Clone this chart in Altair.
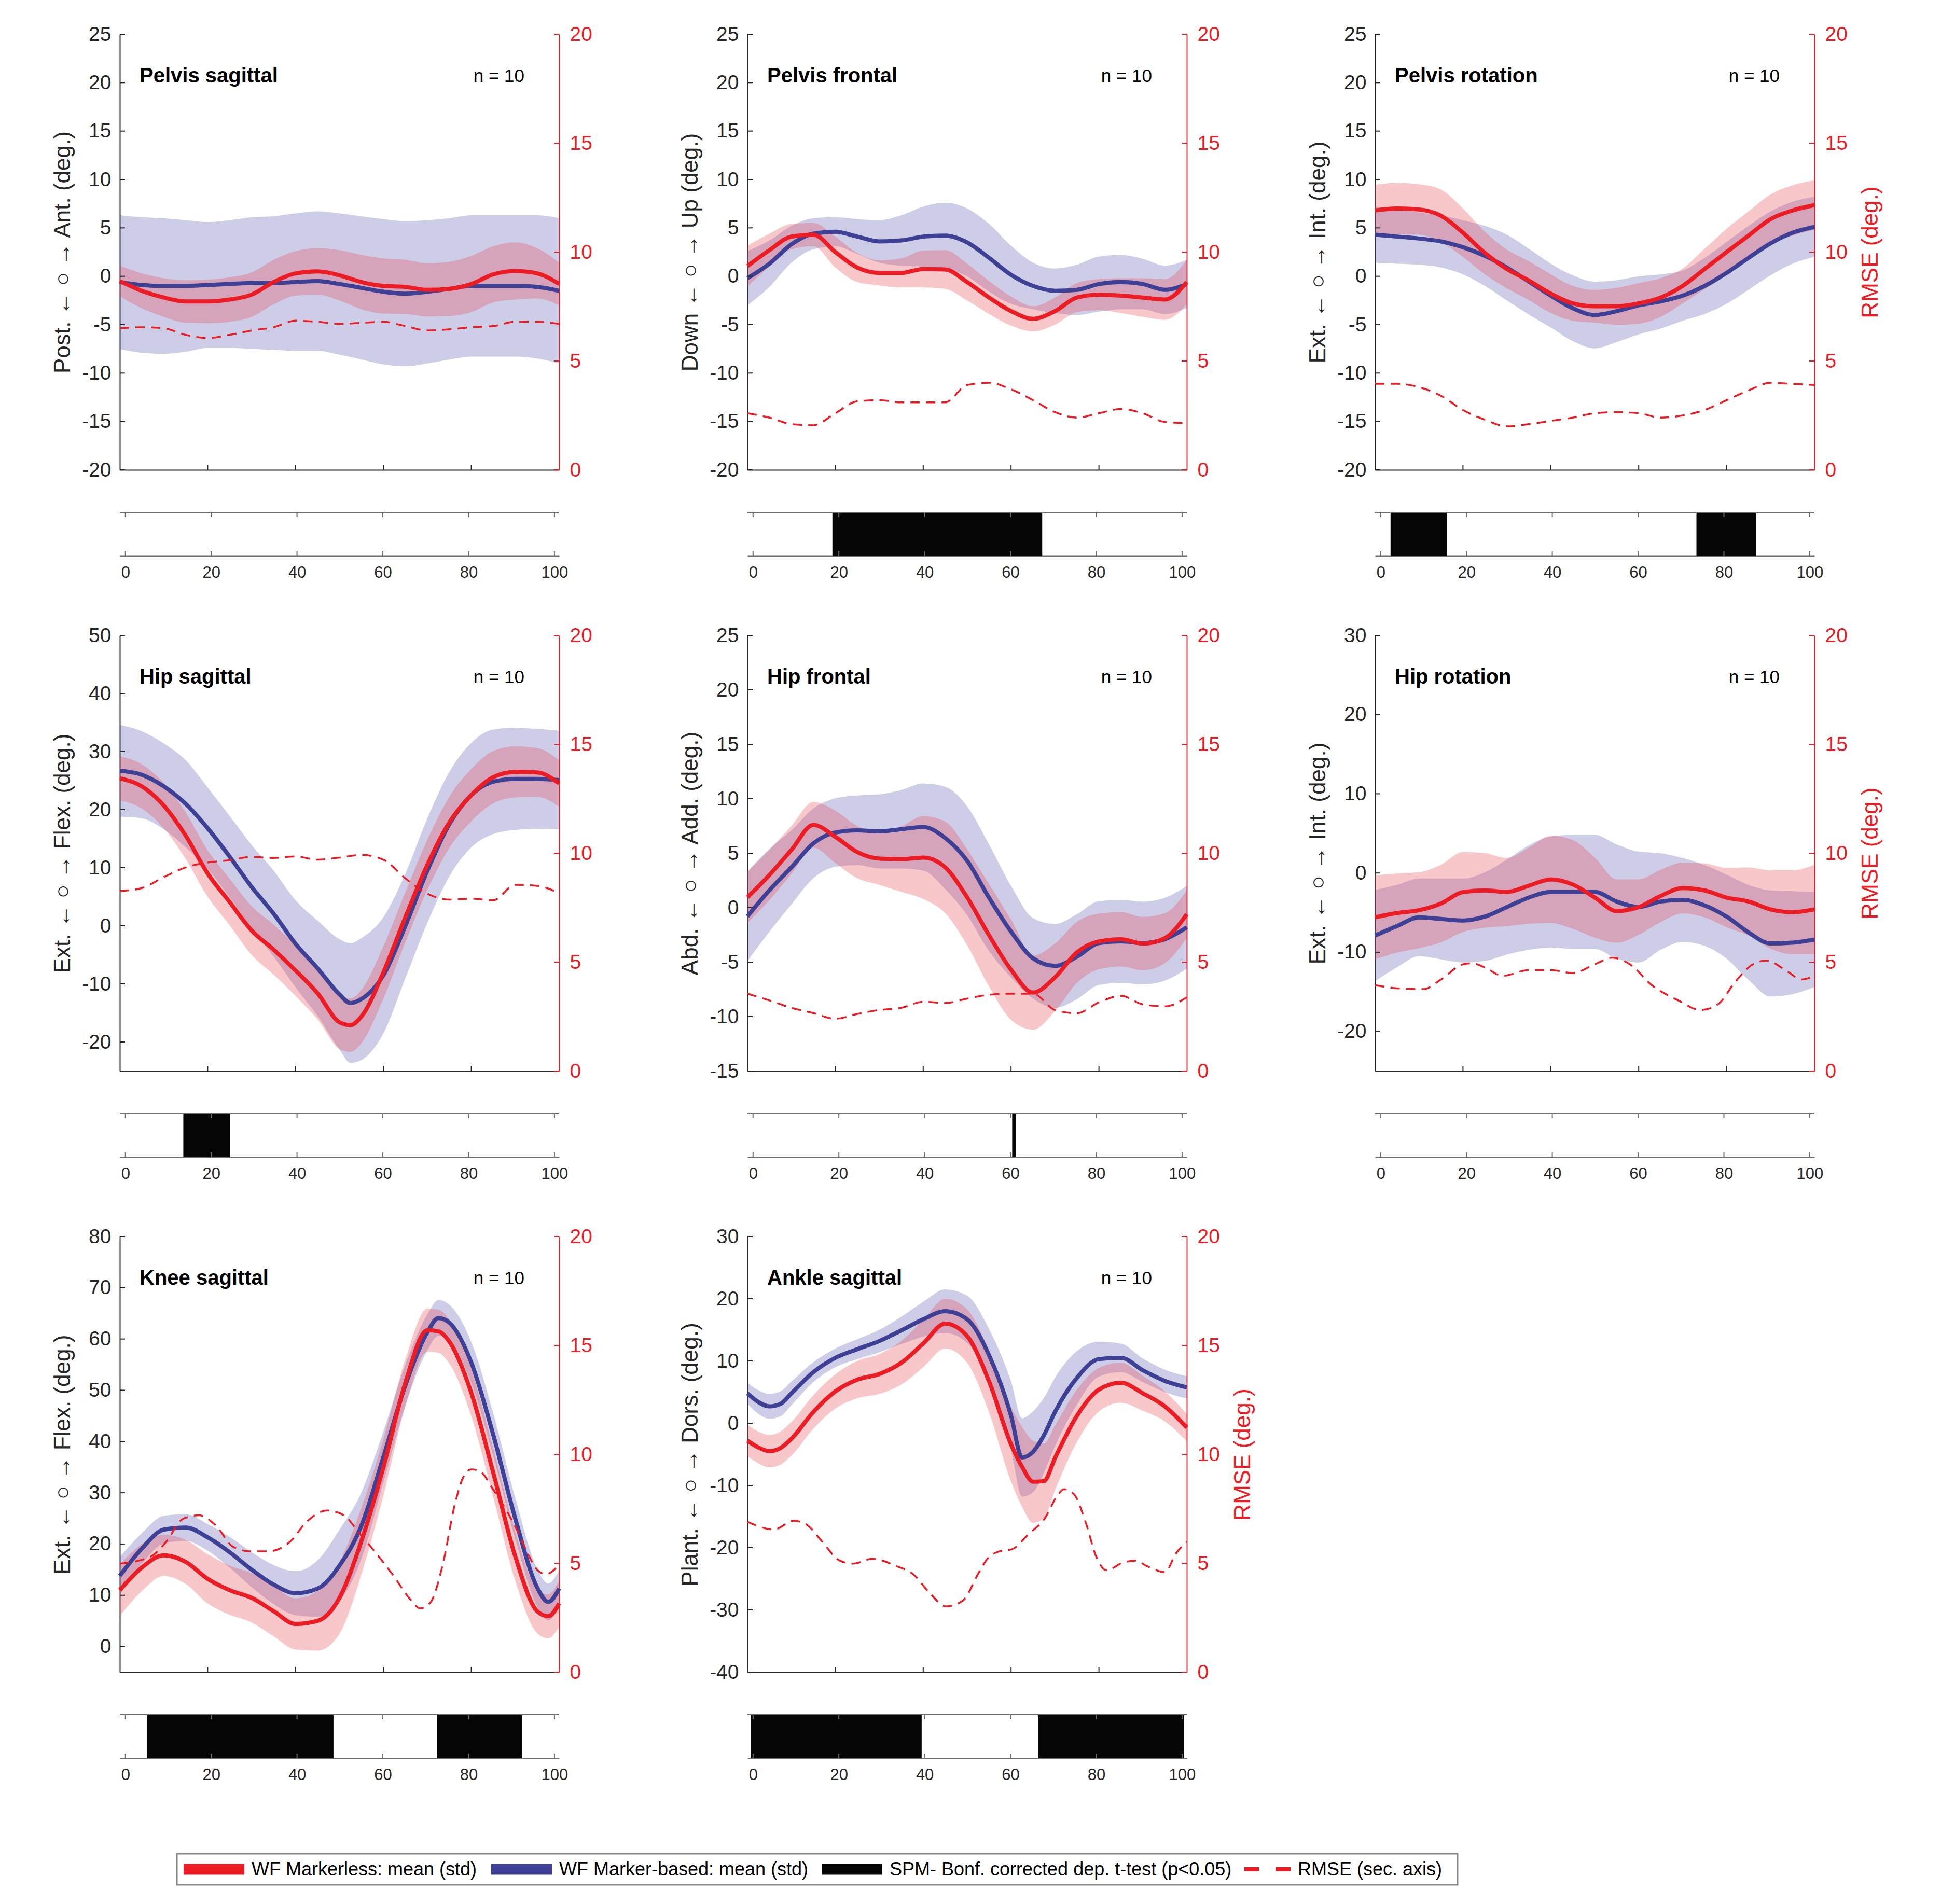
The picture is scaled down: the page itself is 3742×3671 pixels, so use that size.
import altair as alt
import pandas as pd

# ---------------------------------------------------------------- data
X5 = [0, 5, 10, 15, 20, 25, 30, 35, 40, 45, 50, 55, 60, 65, 70, 75, 80, 85, 90, 95, 100]
RMSE_TICKS = [0, 5, 10, 15, 20]
STRIP_TICKS = [0, 20, 40, 60, 80, 100]
MAIN_XTICKS = [20, 40, 60, 80]

# Pelvis sagittal
PS_BLUE = [-0.6, -0.9, -1.0, -1.0, -0.9, -0.8, -0.7, -0.7, -0.6, -0.5, -0.8, -1.2, -1.6, -1.8, -1.6, -1.3, -1.0, -1.0, -1.0, -1.1, -1.5]
PS_BLUE_SD = [6.9, 7.0, 7.0, 6.8, 6.5, 6.6, 6.8, 6.9, 7.1, 7.2, 7.3, 7.4, 7.5, 7.5, 7.4, 7.3, 7.3, 7.3, 7.3, 7.4, 7.5]
PS_RED = [-0.5, -1.5, -2.2, -2.6, -2.6, -2.4, -1.9, -0.6, 0.3, 0.5, 0.1, -0.6, -1.0, -1.1, -1.4, -1.3, -0.8, 0.2, 0.55, 0.3, -0.8]
PS_RED_SD = [1.6, 1.8, 2.0, 2.2, 2.25, 2.3, 2.3, 2.3, 2.3, 2.4, 2.6, 2.8, 2.85, 2.8, 2.75, 2.8, 2.9, 2.9, 2.95, 2.6, 2.2]
PS_RMSE = [6.5, 6.55, 6.5, 6.2, 6.05, 6.2, 6.4, 6.55, 6.85, 6.8, 6.7, 6.75, 6.8, 6.6, 6.4, 6.45, 6.55, 6.6, 6.8, 6.8, 6.7]
PS_SPM_START = []
PS_SPM_END = []

# Pelvis frontal
PF_BLUE = [-0.2, 1.3, 3.3, 4.4, 4.6, 4.1, 3.6, 3.7, 4.1, 4.2, 3.5, 1.9, 0.15, -1.0, -1.5, -1.4, -0.8, -0.6, -0.8, -1.4, -0.8]
PF_BLUE_SD = [2.8, 2.4, 1.9, 1.6, 1.5, 1.8, 2.2, 2.6, 3.1, 3.4, 3.5, 3.5, 3.0, 2.4, 2.3, 2.6, 2.85, 2.8, 2.6, 2.5, 2.5]
PF_RED = [1.05, 2.7, 4.1, 4.3, 2.5, 0.9, 0.35, 0.35, 0.75, 0.7, -0.6, -2.2, -3.6, -4.4, -3.6, -2.2, -1.9, -2.0, -2.2, -2.4, -0.6]
PF_RED_SD = [2.1, 1.7, 1.3, 1.2, 1.6, 1.5, 1.3, 1.5, 1.9, 2.0, 1.9, 1.7, 1.5, 1.3, 1.4, 1.5, 1.6, 1.8, 2.0, 2.1, 2.3]
PF_RMSE = [2.6, 2.4, 2.1, 2.05, 2.6, 3.15, 3.2, 3.1, 3.1, 3.1, 3.9, 4.0, 3.7, 3.2, 2.65, 2.4, 2.6, 2.8, 2.6, 2.2, 2.15]
PF_SPM_START = [18.5]
PF_SPM_END = [67.4]

# Pelvis rotation
PR_BLUE = [4.3, 4.1, 3.9, 3.6, 3.0, 2.1, 0.9, -0.55, -2.0, -3.3, -4.0, -3.6, -3.0, -2.6, -2.0, -1.0, 0.35, 1.9, 3.4, 4.5, 5.1]
PR_BLUE_SD = [2.9, 2.8, 2.7, 2.7, 2.8, 3.1, 3.4, 3.4, 3.3, 3.4, 3.45, 3.2, 3.0, 2.8, 2.6, 2.9, 3.2, 3.3, 3.3, 3.2, 3.1]
PR_RED = [6.8, 7.0, 6.9, 6.25, 4.5, 2.4, 0.75, -0.45, -1.8, -2.8, -3.1, -3.1, -2.8, -2.2, -1.0, 0.75, 2.5, 4.2, 5.9, 6.8, 7.35]
PR_RED_SD = [2.65, 2.65, 2.6, 2.7, 2.5, 2.2, 2.0, 2.0, 2.0, 1.8, 1.7, 1.9, 2.1, 2.0, 1.8, 2.1, 2.4, 2.5, 2.55, 2.6, 2.55]
PR_RMSE = [3.95, 3.95, 3.8, 3.4, 2.75, 2.3, 2.0, 2.1, 2.25, 2.4, 2.6, 2.65, 2.6, 2.4, 2.5, 2.75, 3.2, 3.65, 4.0, 3.95, 3.9]
PR_SPM_START = [2.3, 73.6]
PR_SPM_END = [15.4, 87.5]

# Hip sagittal
HS_X = [0, 5, 10, 15, 20, 25, 30, 35, 40, 45, 50, 52.5, 55, 60, 65, 70, 75, 80, 85, 90, 95, 100]
HS_BLUE = [26.7, 26.0, 24.0, 21.0, 16.8, 11.9, 6.7, 2.1, -3.1, -7.3, -11.8, -13.3, -12.6, -8.5, 0.0, 9.5, 17.5, 22.5, 24.8, 25.3, 25.3, 25.1]
HS_BLUE_SD = [7.9, 7.5, 7.4, 7.5, 7.0, 7.0, 7.2, 7.4, 7.5, 8.2, 9.5, 10.3, 10.5, 10.0, 9.0, 9.0, 9.0, 9.0, 9.0, 8.8, 8.6, 8.5]
HS_RED = [25.4, 24.0, 20.7, 15.5, 9.0, 4.1, -0.8, -4.1, -7.7, -11.6, -16.6, -17.1, -15.6, -8.0, 1.5, 10.5, 17.8, 22.5, 25.6, 26.5, 26.4, 24.5]
HS_RED_SD = [3.8, 3.8, 3.9, 4.0, 4.0, 4.0, 4.2, 4.3, 4.4, 4.5, 4.6, 4.6, 4.6, 4.5, 4.3, 4.3, 4.4, 4.5, 4.5, 4.4, 4.2, 4.0]
HS_RMSE = [8.26, 8.4, 8.9, 9.35, 9.57, 9.68, 9.83, 9.78, 9.85, 9.7, 9.8, 9.92, 9.7, 8.84, 8.14, 7.87, 7.91, 7.84, 8.55, 8.5, 8.17]
HS_SPM_START = [13.5]
HS_SPM_END = [24.4]

# Hip frontal
HF_BLUE = [-0.8, 1.6, 3.7, 5.9, 6.9, 7.1, 7.0, 7.2, 7.4, 6.4, 4.3, 0.9, -2.2, -4.65, -5.35, -4.5, -3.25, -3.1, -3.25, -2.9, -1.8]
HF_BLUE_SD = [4.1, 3.8, 3.4, 3.2, 3.15, 3.2, 3.4, 3.6, 4.0, 4.7, 5.0, 4.9, 4.2, 3.7, 3.85, 3.9, 3.85, 3.8, 3.8, 3.8, 3.8]
HF_RED = [0.95, 3.0, 5.3, 7.6, 6.5, 5.1, 4.5, 4.45, 4.6, 3.7, 0.95, -2.55, -5.7, -7.8, -6.4, -4.1, -3.1, -2.9, -3.3, -2.8, -0.6]
HF_RED_SD = [2.35, 2.3, 2.2, 2.1, 2.4, 2.4, 2.4, 3.0, 3.8, 4.2, 4.4, 4.7, 4.6, 3.4, 3.1, 2.8, 2.55, 2.5, 2.45, 2.3, 2.2]
HF_RMSE = [3.55, 3.24, 2.9, 2.66, 2.4, 2.62, 2.8, 2.9, 3.18, 3.12, 3.32, 3.5, 3.55, 3.55, 2.8, 2.65, 3.15, 3.45, 3.06, 2.97, 3.38]
HF_SPM_START = [60.4]
HF_SPM_END = [61.3]

# Hip rotation
HR_BLUE = [-7.9, -6.7, -5.6, -5.8, -6.0, -5.5, -4.3, -3.1, -2.4, -2.4, -2.4, -3.6, -4.3, -3.6, -3.4, -4.1, -5.5, -7.5, -8.9, -8.8, -8.4]
HR_BLUE_SD = [5.75, 5.2, 4.9, 5.1, 5.3, 5.6, 6.0, 6.6, 7.0, 7.2, 7.2, 7.2, 7.0, 6.1, 5.3, 5.1, 5.3, 6.0, 6.7, 6.5, 6.0]
HR_RED = [-5.6, -5.05, -4.7, -3.85, -2.4, -2.2, -2.4, -1.6, -0.8, -1.45, -3.1, -4.8, -4.3, -2.9, -1.9, -2.2, -3.1, -3.6, -4.6, -4.95, -4.6]
HR_RED_SD = [5.3, 5.0, 4.8, 4.9, 5.05, 4.7, 4.3, 4.8, 5.5, 5.6, 5.05, 4.0, 3.5, 3.3, 3.2, 3.4, 3.75, 4.3, 4.95, 5.3, 5.65]
HR_RMSE_X = [0, 5, 11, 15, 20, 22, 25, 29, 35, 40, 45, 50, 54, 58, 63, 69, 74, 78, 82, 86, 89, 94, 97, 100]
HR_RMSE = [3.94, 3.8, 3.76, 4.2, 4.9, 4.95, 4.75, 4.37, 4.63, 4.63, 4.5, 4.9, 5.2, 4.9, 3.94, 3.24, 2.8, 3.06, 4.1, 4.9, 5.07, 4.55, 4.2, 4.37]
HR_SPM_START = []
HR_SPM_END = []

# Knee sagittal
KS_X = [0, 5, 10, 15, 20, 25, 30, 35, 40, 45, 50, 55, 60, 65, 70, 72.5, 75, 80, 85, 90, 95, 97.5, 100]
KS_BLUE = [13.8, 19.1, 22.8, 23.2, 21.3, 18.4, 15.0, 12.1, 10.4, 11.3, 15.8, 23.6, 37.0, 51.0, 61.3, 64.1, 63.2, 55.4, 41.3, 25.0, 11.5, 8.7, 11.3]
KS_BLUE_SD = [3.7, 3.0, 2.7, 2.6, 2.6, 3.0, 3.4, 3.8, 4.3, 5.5, 7.0, 6.5, 5.0, 4.0, 3.5, 3.5, 3.5, 4.0, 4.2, 4.0, 3.7, 3.6, 3.6]
KS_RED = [11.0, 15.4, 17.8, 16.5, 13.2, 11.0, 9.5, 6.9, 4.4, 5.0, 9.5, 20.6, 35.0, 51.5, 61.7, 61.5, 59.5, 49.5, 33.9, 17.6, 6.9, 5.9, 8.4]
KS_RED_SD = [5.0, 4.6, 4.0, 4.3, 4.8, 4.8, 4.8, 4.9, 5.0, 5.8, 7.0, 6.5, 5.5, 4.6, 4.2, 4.2, 4.3, 4.6, 4.8, 4.8, 4.3, 4.3, 4.5]
KS_RMSE_X = [0, 7, 10.6, 14.4, 18, 22, 25.6, 29.4, 34, 38.8, 42.5, 47.2, 51, 54.7, 57.6, 62.3, 66, 68.4, 70.7, 73.5, 76.3, 78.2, 80, 82, 84.8, 87.6, 90.4, 93.2, 95.1, 97, 100]
KS_RMSE = [4.98, 5.3, 6.0, 7.04, 7.2, 6.7, 5.78, 5.55, 5.55, 6.0, 6.9, 7.42, 7.2, 6.33, 5.64, 4.42, 3.37, 2.93, 3.2, 4.94, 7.74, 8.96, 9.31, 9.22, 8.44, 7.56, 6.52, 5.3, 4.68, 4.5, 4.94]
KS_SPM_START = [5.0, 72.6]
KS_SPM_END = [48.5, 92.5]

# Ankle sagittal
AS_X = [0, 2.5, 5, 7.5, 10, 15, 20, 25, 30, 35, 40, 45, 50, 55, 60, 62.5, 65, 67.5, 70, 75, 80, 85, 90, 95, 100]
AS_BLUE = [4.8, 3.4, 2.7, 3.1, 4.8, 8.2, 10.5, 11.9, 13.2, 14.9, 16.7, 18.0, 16.7, 10.9, 1.2, -5.5, -4.6, -1.9, 1.8, 7.3, 10.3, 10.5, 8.5, 6.8, 5.75]
AS_BLUE_SD = [1.7, 1.9, 2.0, 2.0, 1.9, 1.6, 1.5, 1.6, 1.8, 2.2, 2.8, 3.5, 3.8, 4.2, 5.5, 6.3, 6.5, 6.0, 5.5, 4.3, 2.8, 2.3, 1.9, 1.8, 1.8]
AS_RED = [-2.8, -3.9, -4.5, -4.0, -2.5, 1.8, 5.1, 7.0, 7.9, 9.7, 12.8, 16.0, 14.0, 6.7, -3.4, -7.0, -9.4, -9.3, -5.6, 1.2, 5.4, 6.5, 4.8, 2.7, -0.7]
AS_RED_SD = [2.5, 2.55, 2.6, 2.65, 2.7, 2.7, 2.75, 3.0, 3.2, 3.5, 3.8, 4.0, 4.3, 5.0, 6.0, 6.4, 6.6, 6.0, 5.2, 4.2, 3.5, 3.2, 2.8, 2.4, 2.2]
AS_RMSE_X = [0, 6, 10.6, 13.4, 17, 21, 24, 28.4, 34, 37.7, 41.5, 45.2, 49, 52.7, 54.6, 57.4, 60.2, 64, 67.6, 70.5, 72, 74.3, 77, 79.4, 81.7, 85.5, 88.3, 91, 95, 97.6, 100]
AS_RMSE = [6.9, 6.55, 6.95, 6.78, 5.99, 5.12, 4.98, 5.2, 4.86, 4.5, 3.63, 3.02, 3.28, 4.59, 5.2, 5.55, 5.64, 6.34, 7.04, 8.09, 8.4, 8.17, 6.86, 5.29, 4.68, 5.03, 5.12, 4.86, 4.59, 5.47, 5.99]
AS_SPM_START = [-0.5, 66.4]
AS_SPM_END = [39.3, 100.5]

# Legend
LEG_LABELS = ["WF Markerless: mean (std)", "WF Marker-based: mean (std)",
              "SPM- Bonf. corrected dep. t-test (p<0.05)", "RMSE (sec. axis)"]

# ---------------------------------------------------------------- style
W, H, SH = 847, 840, 84
RED = "#EC1C24"
BLUE = "#3E4096"
BLUE_FILL = "#3B37A3"
RED_FILL = "#E8464F"
AX = "#262626"
GRAY = "#6E6E6E"
FONT = "Liberation Sans"
INTERP = "monotone"
STRIP_DOMAIN = [-1.3, 101.1]
LABEL_EXPR = "toString(datum.value)"


def make_main(name, ylabel, ydom, yticks, x, blue, blue_sd, red, red_sd, rx, rmse, rmse_title):
    d = pd.DataFrame({"x": x, "b": blue, "bs": blue_sd, "r": red, "rs": red_sd})
    d["b_lo"] = d["b"] - d["bs"]
    d["b_hi"] = d["b"] + d["bs"]
    d["r_lo"] = d["r"] - d["rs"]
    d["r_hi"] = d["r"] + d["rs"]
    xs = alt.Scale(domain=[0, 100], nice=False, zero=False)
    ys = alt.Scale(domain=ydom, nice=False, zero=False)
    rs = alt.Scale(domain=[0, 20], nice=False, zero=False)
    x_axis = alt.Axis(title=None, labels=False, ticks=False, grid=False, domainColor=AX,
                      domainWidth=2, minExtent=0, maxExtent=0)
    y_axis = alt.Axis(title=ylabel, values=yticks, ticks=False, grid=False, labelExpr=LABEL_EXPR,
                      labelFont=FONT, labelFontSize=39, labelColor=AX, labelPadding=17,
                      domainColor=AX, domainWidth=2, titleFont=FONT, titleFontSize=44,
                      titleFontWeight="normal", titleColor=AX, titlePadding=10,
                      minExtent=78, maxExtent=78)
    r_axis = alt.Axis(orient="right", title="RMSE (deg.)", values=RMSE_TICKS, ticks=False,
                      grid=False, labelFont=FONT, labelFontSize=39, labelColor=RED,
                      labelPadding=20, domainColor=RED, domainWidth=2, titleFont=FONT,
                      titleFontSize=44, titleFontWeight="normal", titleColor=RED,
                      titleOpacity=1 if rmse_title else 0, titlePadding=20,
                      titleAngle=270, titleBaseline="top", minExtent=66, maxExtent=66)
    X = alt.X("x:Q", scale=xs, axis=x_axis)
    base = alt.Chart(d)
    blue_band = base.mark_area(color=BLUE_FILL, opacity=0.25, interpolate=INTERP).encode(
        x=X, y=alt.Y("b_lo:Q", scale=ys, axis=y_axis), y2="b_hi:Q")
    red_band = base.mark_area(color=RED_FILL, opacity=0.3, interpolate=INTERP).encode(
        x=X, y=alt.Y("r_lo:Q", scale=ys, axis=y_axis), y2="r_hi:Q")
    blue_line = base.mark_line(color=BLUE, strokeWidth=8, interpolate=INTERP).encode(
        x=X, y=alt.Y("b:Q", scale=ys, axis=y_axis))
    red_line = base.mark_line(color=RED, strokeWidth=8, interpolate=INTERP).encode(
        x=X, y=alt.Y("r:Q", scale=ys, axis=y_axis))
    lticks = alt.Chart(pd.DataFrame({"v": yticks})).mark_rule(color=AX, strokeWidth=2).encode(
        y=alt.Y("v:Q", scale=ys, axis=y_axis), x=alt.value(0), x2=alt.value(10))
    bticks = alt.Chart(pd.DataFrame({"x": MAIN_XTICKS})).mark_rule(color=AX, strokeWidth=2).encode(
        x=X, y=alt.value(H), y2=alt.value(H - 10))
    title = alt.Chart(pd.DataFrame({"t": [name]})).mark_text(
        font=FONT, fontSize=40, fontWeight="bold", color="black", align="left",
        baseline="middle").encode(text="t:N", x=alt.value(38), y=alt.value(81))
    ntext = alt.Chart(pd.DataFrame({"t": ["n = 10"]})).mark_text(
        font=FONT, fontSize=35, color="black", align="right",
        baseline="middle").encode(text="t:N", x=alt.value(780), y=alt.value(81))
    left = alt.layer(blue_band, red_band, blue_line, red_line, lticks, bticks, title, ntext)

    rd = pd.DataFrame({"x": rx, "e": rmse})
    rmse_line = alt.Chart(rd).mark_line(color=RED, strokeWidth=3.5, strokeDash=[18, 12],
                                        interpolate=INTERP).encode(
        x=X, y=alt.Y("e:Q", scale=rs, axis=r_axis))
    rticks = alt.Chart(pd.DataFrame({"v": RMSE_TICKS})).mark_rule(color=RED, strokeWidth=2).encode(
        y=alt.Y("v:Q", scale=rs, axis=r_axis), x=alt.value(W - 10), x2=alt.value(W))
    right = alt.layer(rmse_line, rticks)
    return alt.layer(left, right).resolve_scale(y="independent").properties(width=W, height=H)


def make_strip(spm_start, spm_end):
    xs2 = alt.Scale(domain=STRIP_DOMAIN, nice=False, zero=False)
    s_axis = alt.Axis(title=None, values=STRIP_TICKS, ticks=False, grid=False, labelFont=FONT,
                      labelFontSize=31, labelColor=AX, labelPadding=17, domainColor=GRAY,
                      domainWidth=2, format="d")
    SX = alt.X("t:Q", scale=xs2, axis=s_axis)
    tick_df = pd.DataFrame({"t": STRIP_TICKS})
    layers = []
    if spm_start:
        layers.append(alt.Chart(pd.DataFrame({"t": spm_start, "e": spm_end})).mark_rect(
            color="#050505").encode(x=SX, x2="e:Q", y=alt.value(0), y2=alt.value(SH)))
    bot = alt.Chart(tick_df).mark_rule(color=GRAY, strokeWidth=2).encode(
        x=SX, y=alt.value(SH), y2=alt.value(SH - 9))
    top = alt.Chart(tick_df).mark_rule(color=GRAY, strokeWidth=2).encode(
        x=SX, y=alt.value(0), y2=alt.value(9))
    top_line = alt.Chart(pd.DataFrame({"k": [0]})).mark_rule(color=GRAY, strokeWidth=2).encode(
        x=alt.value(0), x2=alt.value(W), y=alt.value(0))
    return alt.layer(*layers, bot, top, top_line).properties(width=W, height=SH)


def panel(name, ylabel, ydom, yticks, x, blue, blue_sd, red, red_sd, rx, rmse, s, e, rt=False):
    return alt.vconcat(make_main(name, ylabel, ydom, yticks, x, blue, blue_sd, red, red_sd,
                                 rx, rmse, rt),
                       make_strip(s, e), spacing=61)


T_PELVIS = [-20, -15, -10, -5, 0, 5, 10, 15, 20, 25]
p1 = panel("Pelvis sagittal", "Post. ← ○ → Ant. (deg.)", [-20, 25], T_PELVIS, X5, PS_BLUE,
           PS_BLUE_SD, PS_RED, PS_RED_SD, X5, PS_RMSE, PS_SPM_START, PS_SPM_END)
p2 = panel("Pelvis frontal", "Down ← ○ → Up  (deg.)", [-20, 25], T_PELVIS, X5, PF_BLUE,
           PF_BLUE_SD, PF_RED, PF_RED_SD, X5, PF_RMSE, PF_SPM_START, PF_SPM_END)
p3 = panel("Pelvis rotation", "Ext. ← ○ → Int.  (deg.)", [-20, 25], T_PELVIS, X5, PR_BLUE,
           PR_BLUE_SD, PR_RED, PR_RED_SD, X5, PR_RMSE, PR_SPM_START, PR_SPM_END, True)
p4 = panel("Hip sagittal", "Ext. ← ○ → Flex. (deg.)", [-25, 50], [-20, -10, 0, 10, 20, 30, 40, 50],
           HS_X, HS_BLUE, HS_BLUE_SD, HS_RED, HS_RED_SD, X5, HS_RMSE, HS_SPM_START, HS_SPM_END)
p5 = panel("Hip frontal", "Abd. ← ○ → Add. (deg.)", [-15, 25], [-15, -10, -5, 0, 5, 10, 15, 20, 25],
           X5, HF_BLUE, HF_BLUE_SD, HF_RED, HF_RED_SD, X5, HF_RMSE, HF_SPM_START, HF_SPM_END)
p6 = panel("Hip rotation", "Ext. ← ○ → Int. (deg.)", [-25, 30], [-20, -10, 0, 10, 20, 30],
           X5, HR_BLUE, HR_BLUE_SD, HR_RED, HR_RED_SD, HR_RMSE_X, HR_RMSE, HR_SPM_START,
           HR_SPM_END, True)
p7 = panel("Knee sagittal", "Ext. ← ○ → Flex. (deg.)", [-5, 80], [0, 10, 20, 30, 40, 50, 60, 70, 80],
           KS_X, KS_BLUE, KS_BLUE_SD, KS_RED, KS_RED_SD, KS_RMSE_X, KS_RMSE, KS_SPM_START,
           KS_SPM_END)
p8 = panel("Ankle sagittal", "Plant. ← ○ → Dors. (deg.)", [-40, 30], [-40, -30, -20, -10, 0, 10, 20, 30],
           AS_X, AS_BLUE, AS_BLUE_SD, AS_RED, AS_RED_SD, AS_RMSE_X, AS_RMSE, AS_SPM_START,
           AS_SPM_END, True)

HSP = 101
row1 = alt.hconcat(p1, p2, p3, spacing=HSP)
row2 = alt.hconcat(p4, p5, p6, spacing=HSP)
row3 = alt.hconcat(p7, p8, spacing=HSP)

# ---------------------------------------------------------------- legend
LEG_W, LEG_H = 2600, 60
LEG_BOX = [110, 2579]
LEG_SW_START = [123, 716, 1353, 2168]
LEG_SW_LEN = [117, 117, 117, 89]
LEG_COLORS = [RED, BLUE, "#050505", RED]
lx = alt.Scale(domain=[0, LEG_W], range=[0, LEG_W])
leg_box = alt.Chart(pd.DataFrame({"a": [LEG_BOX[0]], "b": [LEG_BOX[1]]})).mark_rect(
    fill="white", stroke="#888888", strokeWidth=3).encode(
    x=alt.X("a:Q", scale=lx, axis=None), x2="b:Q", y=alt.value(0), y2=alt.value(LEG_H))
sw = pd.DataFrame({"a": LEG_SW_START[:3], "b": [s + l for s, l in zip(LEG_SW_START[:3], LEG_SW_LEN[:3])],
                   "c": LEG_COLORS[:3]})
leg_sw = alt.Chart(sw).mark_rule(strokeWidth=21, strokeCap="butt").encode(
    x=alt.X("a:Q", scale=lx, axis=None), x2="b:Q", y=alt.value(LEG_H / 2),
    color=alt.Color("c:N", scale=None))
leg_dash = alt.Chart(pd.DataFrame({"a": [LEG_SW_START[3]], "b": [LEG_SW_START[3] + LEG_SW_LEN[3]]})).mark_rule(
    strokeWidth=8, strokeDash=[28, 33], strokeCap="butt", color=RED).encode(
    x=alt.X("a:Q", scale=lx, axis=None), x2="b:Q", y=alt.value(LEG_H / 2))
lt = pd.DataFrame({"a": [s + l + 14 for s, l in zip(LEG_SW_START, LEG_SW_LEN)], "t": LEG_LABELS})
leg_text = alt.Chart(lt).mark_text(font=FONT, fontSize=36, color="black", align="left",
                                   baseline="middle").encode(
    x=alt.X("a:Q", scale=lx, axis=None), y=alt.value(LEG_H / 2 + 1), text="t:N")
legend = alt.layer(leg_box, leg_sw, leg_dash, leg_text).properties(width=LEG_W, height=LEG_H)

top_rows = alt.vconcat(row1, row2, row3, spacing=87)
chart = alt.vconcat(top_rows, legend, spacing=135).properties(
    padding={"left": 91, "top": 39, "right": 5, "bottom": 5}, background="white"
).configure_view(stroke=None)

chart.save("out.html", embed_options={"renderer": "svg", "actions": False})
